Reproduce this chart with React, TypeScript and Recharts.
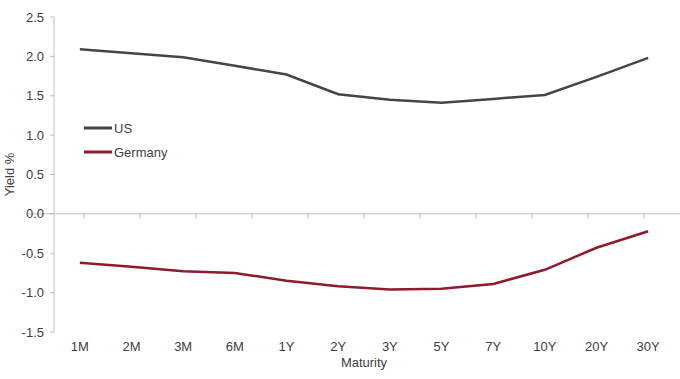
import React from 'react';
import { LineChart, Line, XAxis, YAxis, ReferenceLine, Legend, Label } from 'recharts';

const categories = ['1M', '2M', '3M', '6M', '1Y', '2Y', '3Y', '5Y', '7Y', '10Y', '20Y', '30Y'];
const seriesNames = ['US', 'Germany'];
const usYields = [2.09, 2.04, 1.99, 1.88, 1.77, 1.52, 1.45, 1.41, 1.46, 1.51, 1.74, 1.98];
const germanyYields = [-0.62, -0.67, -0.73, -0.75, -0.85, -0.92, -0.96, -0.95, -0.89, -0.71, -0.43, -0.22];
const yTicks = [-1.5, -1.0, -0.5, 0.0, 0.5, 1.0, 1.5, 2.0, 2.5];

const data = categories.map((c, i) => ({ maturity: c, US: usYields[i], Germany: germanyYields[i] }));

const AXIS = '#bfbfbf';
const TEXT = '#404040';
const FONT = '"Liberation Sans", Arial, sans-serif';
const PLOT_W = 620;
const HALF_BAND = PLOT_W / categories.length / 2;

const ZeroLine = (props: any) => {
  const { x1, x2, y1 } = props;
  const left = x1 - HALF_BAND;
  const right = x2 + HALF_BAND;
  const n = categories.length;
  const step = (right - left) / n;
  const ticks = [];
  for (let i = 1; i <= n; i++) {
    const x = left + step * i;
    ticks.push(<line key={i} x1={x} x2={x} y1={y1} y2={y1 + 5} stroke={AXIS} strokeWidth={1} />);
  }
  return (
    <g>
      <line x1={left} x2={right} y1={y1} y2={y1} stroke={AXIS} strokeWidth={1} />
      {ticks}
    </g>
  );
};

const LegendContent = (props: any) => {
  const payload = [...(props.payload || [])].sort(
    (a: any, b: any) => seriesNames.indexOf(a.value) - seriesNames.indexOf(b.value)
  );
  return (
    <div style={{ fontFamily: FONT, fontSize: 13, color: TEXT }}>
      {payload.map((p: any, i: number) => (
        <div key={i} style={{ display: 'flex', alignItems: 'center', height: 24 }}>
          <svg width={28} height={6} style={{ marginRight: 2 }}>
            <line x1={0} x2={28} y1={3} y2={3} stroke={p.color} strokeWidth={3} />
          </svg>
          <span>{p.value}</span>
        </div>
      ))}
    </div>
  );
};

export default function App() {
  return (
    <div style={{ position: 'absolute', left: 0, top: 0, background: '#fff' }}>
      <LineChart width={680} height={379} data={data} margin={{ top: 17, right: 6, bottom: 0, left: 0 }}>
        <XAxis
          dataKey="maturity"
          axisLine={false}
          tickLine={false}
          height={47}
          tickSize={4}
          tickMargin={6}
          interval={0}
          padding={{ left: HALF_BAND, right: HALF_BAND }}
          tick={{ fill: TEXT, fontSize: 13, fontFamily: FONT }}
        >
          <Label value="Maturity" position="insideBottom" offset={12} fill={TEXT} fontSize={13} fontFamily={FONT} />
        </XAxis>
        <YAxis
          domain={[-1.5, 2.5]}
          ticks={yTicks}
          width={54}
          interval={0}
          tickFormatter={(v: number) => v.toFixed(1)}
          axisLine={{ stroke: AXIS }}
          tickLine={{ stroke: AXIS }}
          tickSize={4}
          tickMargin={6}
          tick={{ fill: TEXT, fontSize: 13, fontFamily: FONT }}
        >
          <Label
            value="Yield %"
            angle={-90}
            position="insideLeft"
            offset={9}
            fill={TEXT}
            fontSize={13}
            fontFamily={FONT}
            style={{ textAnchor: 'middle' }}
          />
        </YAxis>
        <ReferenceLine y={0} shape={ZeroLine} />
        <Legend
          layout="vertical"
          verticalAlign="middle"
          align="center"
          content={LegendContent}
          wrapperStyle={{ position: 'absolute', left: 84, top: 116, width: 120 }}
        />
        <Line type="linear" dataKey="US" name="US" stroke="#40474c" strokeWidth={2.5} dot={false} isAnimationActive={false} />
        <Line type="linear" dataKey="Germany" name="Germany" stroke="#8e1a2c" strokeWidth={2.5} dot={false} isAnimationActive={false} />
      </LineChart>
    </div>
  );
}
